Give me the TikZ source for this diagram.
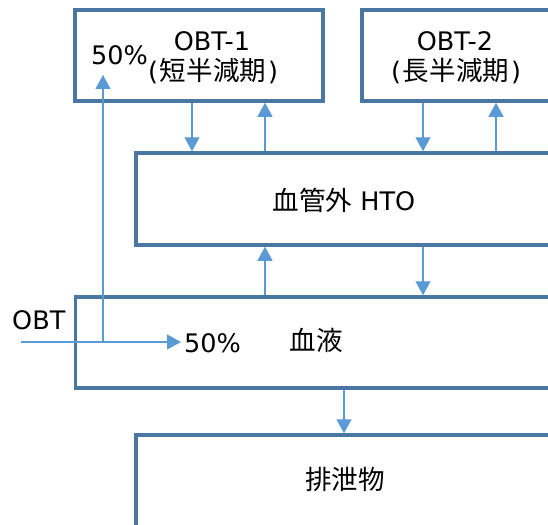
\documentclass[tikz,border=0pt]{standalone}
\usepackage{fontspec}
\setmainfont{DejaVu Sans}
\newfontfamily\cjk{Noto Sans CJK JP}[Scale=1.04]
\usetikzlibrary{arrows.meta}
\definecolor{boxblue}{HTML}{4A76A2}
\definecolor{arrblue}{HTML}{5B9BD5}
\begin{document}
\begin{tikzpicture}[x=1pt,y=-1pt,
  box/.style={draw=boxblue,line width=3.5pt,inner sep=0pt,rectangle},
  arr/.style={draw=arrblue,line width=1.4pt,-{Triangle[width=15pt,length=14pt]}},
  lbl/.style={inner sep=0pt,anchor=base,font=\fontsize{25.5}{30}\selectfont}]
\useasboundingbox (0,0) rectangle (548,524);
\clip (0,0) rectangle (548,524);
% boxes
\node[box,minimum width=248pt,minimum height=91pt] (obt1) at (199,55.5) {};
\node[box,minimum width=258pt,minimum height=91pt] (obt2) at (491,55.5) {};
\node[box,minimum width=484pt,minimum height=92pt] (hto) at (378,199) {};
\node[box,minimum width=544.5pt,minimum height=91pt] (blood) at (347.75,342.5) {};
\node[box,minimum width=484pt,minimum height=165pt] (exc) at (378,517.5) {};
% texts
\node[lbl] (t1) at (212,51) {OBT-1};
\node[lbl] (t1b) at (213,80.5) {(\kern2pt{\cjk 短半減期}\kern2pt)};
\node[lbl] (t2) at (455,51) {OBT-2};
\node[lbl] (t2b) at (456,80.5) {(\kern2pt{\cjk 長半減期}\kern2pt)};
\node[lbl,anchor=base west] (p1) at (91,65) {50\%};
\node[lbl] (th) at (344,210) {{\cjk 血管外} HTO};
\node[lbl,anchor=base west] (tobt) at (12,329) {OBT};
\node[lbl,anchor=base west] (p2) at (184,352) {50\%};
\node[lbl] (tb) at (316,350) {\cjk 血液};
\node[lbl] (te) at (345,489) {\cjk 排泄物};
% columns
\coordinate (c1) at (192,0);
\coordinate (c2) at (265,0);
\coordinate (c3) at (423,0);
\coordinate (c4) at (496,0);
\coordinate (c5) at (344,0);
\coordinate (in) at (21,342);
\coordinate (split) at (103,342);
\coordinate (tipR) at (181,342);
\coordinate (tipU) at (103,75);
% arrows
\draw[arr] (obt1.south -| c1) -- (hto.north -| c1);
\draw[arr] (hto.north -| c2) -- (obt1.south -| c2);
\draw[arr] (obt2.south -| c3) -- (hto.north -| c3);
\draw[arr] (hto.north -| c4) -- (obt2.south -| c4);
\draw[arr] (blood.north -| c2) -- (hto.south -| c2);
\draw[arr] (hto.south -| c3) -- (blood.north -| c3);
\draw[arr] (blood.south -| c5) -- (exc.north -| c5);
\draw[arr] (in) -- (tipR);
\draw[arr] (split) -- (tipU);
\end{tikzpicture}
\end{document}
